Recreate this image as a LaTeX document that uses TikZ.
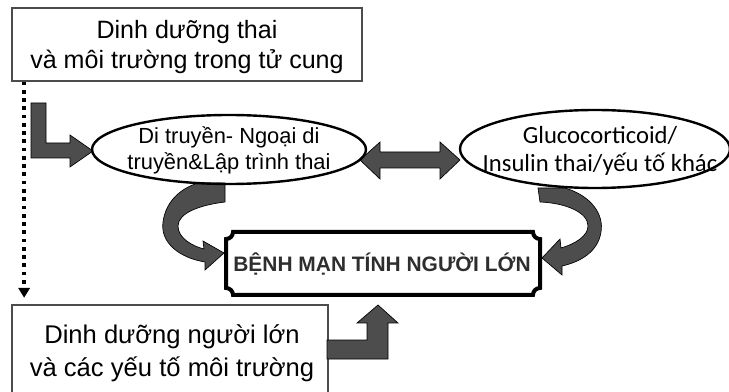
\documentclass[tikz,border=0pt]{standalone}
\usepackage{fontspec}
\setmainfont{Liberation Sans}
\newfontfamily\carl{Carlito}
\usetikzlibrary{shapes.geometric,arrows.meta}
\definecolor{arrowgray}{HTML}{4D4D4D}
\definecolor{plaquetext}{HTML}{2E2E2E}
\begin{document}
\begin{tikzpicture}[x=0.75pt,y=-0.75pt,
  blk/.style={fill=arrowgray, draw=black, line width=0.5pt, line join=miter},
  plainbox/.style={draw=gray!60!black, line width=0.8pt, inner sep=0pt},
  oval/.style={ellipse, draw=black, line width=1.8pt, inner sep=0pt},
  bigtxt/.style={font=\fontsize{18.8pt}{22.5pt}\selectfont, align=center, inner sep=0pt},
  ovaltxt/.style={font=\fontsize{16.4pt}{19.5pt}\selectfont, align=center, inner sep=0pt},
  dotarrow/.style={line width=2.8pt, dash pattern=on 2.8pt off 3.4pt, -{Triangle[length=7.5pt,width=8.5pt]}}
]
\useasboundingbox (0,0) rectangle (729,392);

% boxes
\node[plainbox, minimum width=262.5pt, minimum height=54.75pt] (top) at (187,44.5) {};
\node[bigtxt] (toptxt) at (187,47.5) {Dinh dưỡng thai\\và môi trường trong tử cung};

\node[plainbox, minimum width=237pt, minimum height=67.5pt] (bot) at (170,350) {};
\node[bigtxt, font=\fontsize{19.2pt}{24.75pt}\selectfont] (bottxt) at (172,353) {Dinh dưỡng người lớn\\và các yếu tố môi trường};

% dotted arrow
\draw[dotarrow, shorten >=5pt] ([xshift=9.5pt]top.south west) -- ([xshift=9.5pt]bot.north west);

% block arrows
\draw[blk] (31,103) -- (46,103) -- (46,143) -- (70,143) -- (70,135) -- (93,151) -- (70,167) -- (70,158) -- (31,158) -- cycle;
\draw[blk] (360,160) -- (380,142) -- (380,152) -- (440,152) -- (440,142) -- (460,160) -- (440,179) -- (440,168) -- (380,168) -- (380,179) -- cycle;
\draw[blk] (327,340) -- (367,340) -- (367,323) -- (357,323) -- (378,305) -- (398,323) -- (388,323) -- (388,359) -- (327,359) -- cycle;

% curved arrows
\draw[blk] (198,183) -- (225,183) -- (225,202) .. controls (200,205) and (178,213) .. (178,226)
  .. controls (178,238) and (192,246) .. (204,249) -- (203,241) -- (224,253) -- (205,270) -- (205,262)
  .. controls (180,258) and (160,243) .. (163,222) .. controls (166,200) and (182,188) .. (198,183) -- cycle;
\draw[blk] (538,188) -- (565,188) .. controls (592,196) and (604,215) .. (601,232)
  .. controls (598,252) and (580,262) .. (562,266) -- (562,275) -- (542,258) -- (560,239) -- (561,248)
  .. controls (575,244) and (588,236) .. (588,226) .. controls (588,212) and (565,203) .. (540,202) -- cycle;

% ellipses
\node[oval, minimum width=205.5pt, minimum height=51.75pt] (e1) at (229,149.5) {};
\node[ovaltxt] (e1t) at (229,150) {Di truyền- Ngoại di\\truyền\&Lập trình thai};
\node[oval, minimum width=202.5pt, minimum height=58.5pt] (e2) at (595,149) {};
\node[ovaltxt, font=\carl\fontsize{18.5pt}{21pt}\selectfont] (e2t) at (600,151) {Glucocorticoid/\\Insulin thai/yếu tố khác};

% plaque
\draw[line width=3pt, line join=miter] (233,232) -- (533,232) .. controls (533,235.9) and (536.1,239) .. (540,239)
  -- (540,288) .. controls (536.1,288) and (533,291.1) .. (533,295)
  -- (233,295) .. controls (233,291.1) and (229.9,288) .. (226,288)
  -- (226,239) .. controls (229.9,239) and (233,235.9) .. (233,232) -- cycle;
\node[inner sep=0pt, text=plaquetext, font=\bfseries\fontsize{15.7pt}{18pt}\selectfont] (dz) at (382,264) {BỆNH MẠN TÍNH NGƯỜI LỚN};
\end{tikzpicture}
\end{document}
